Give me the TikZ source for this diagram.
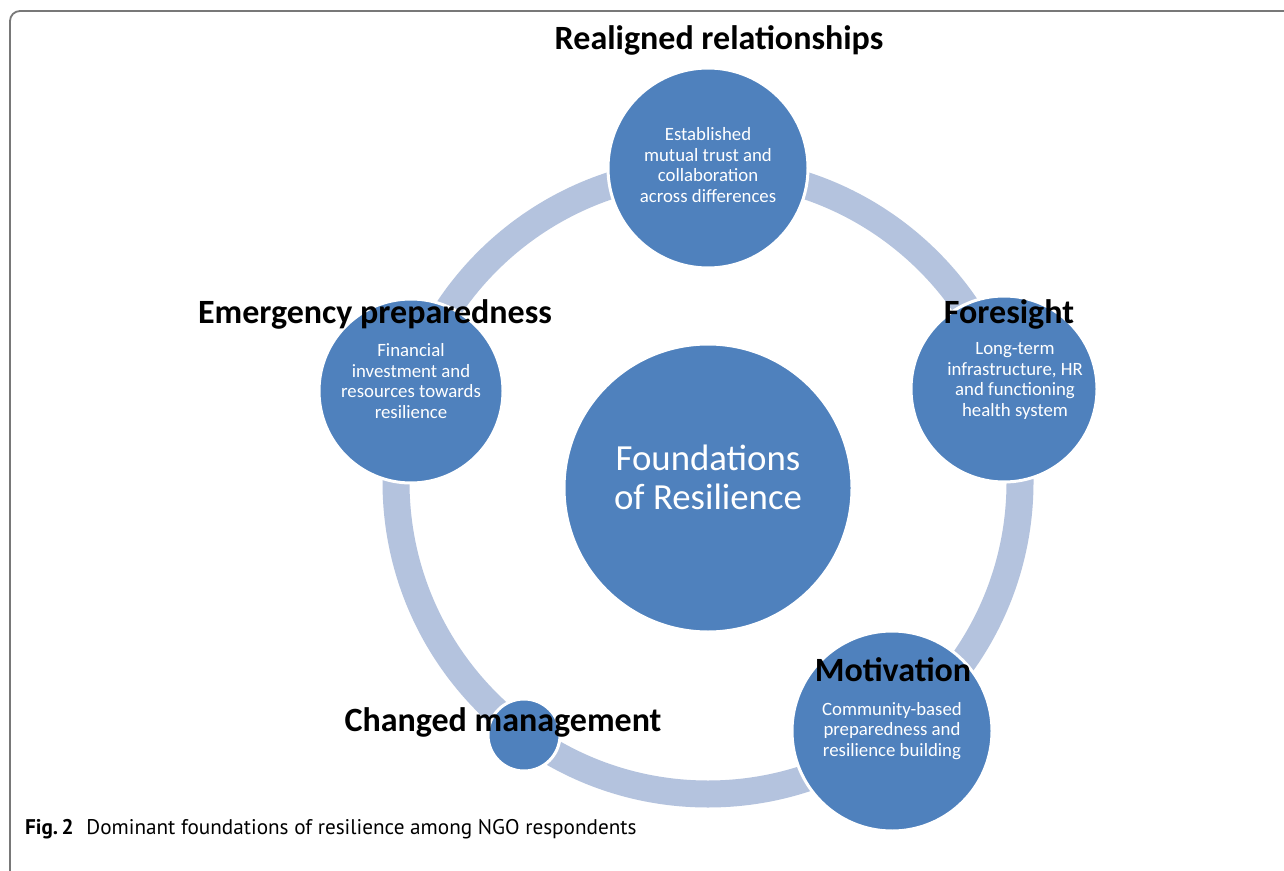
\documentclass[tikz,border=0pt]{standalone}
\usepackage{fontspec}
\setmainfont{Carlito}
\newfontfamily\capfont{PT Sans}
\definecolor{circblue}{RGB}{79,129,189}
\definecolor{ringblue}{RGB}{180,195,222}
\definecolor{framegray}{RGB}{120,120,120}

\begin{document}
\begin{tikzpicture}[x=0.5pt,y=-0.5pt,
    bubble/.style={circle,fill=circblue,draw=white,line width=1.5pt,inner sep=0pt},
    inner/.style={text=white,align=center,font=\fontsize{9.4}{10.4}\selectfont},
    title/.style={font=\fontsize{17}{20}\selectfont\bfseries}]
        \useasboundingbox (0,0) rectangle (1284,871);
        \fill[white] (0,0) rectangle (1284,871);
        \begin{scope}
          \clip (0,0) rectangle (1284,871);
          \draw[framegray,line width=0.9pt,rounded corners=5pt] (1300,11) -- (10,11) -- (10,881) -- (40,881);
        \end{scope}
        % ring through the five circles
        \coordinate (hub) at (708,482);
        \draw[ringblue,line width=13.5pt] (hub) circle (156pt);
        \node [bubble,minimum size=144pt] (found) at (708,488) {};
        \node [bubble,minimum size=100pt] (realign) at (708,168) {};
        \node [bubble,minimum size=93pt]  (fore) at (1004,389) {};
        \node [bubble,minimum size=100pt] (motiv) at (892,731) {};
        \node [bubble,minimum size=36pt]  (change) at (524,735) {};
        \node [bubble,minimum size=92pt]  (emerg) at (411,391) {};
        % texts
        \node [text=white,align=center,font=\fontsize{18.4}{19.5}\selectfont] (foundtxt) at (708,477) {Foundations\\of Resilience};
        \node [inner] (realigntxt) at (708,165) {Established\\mutual trust and\\collaboration\\across differences};
        \node [inner] (foretxt) at (1015,381) {Long-term\\infrastructure, HR\\and functioning\\health system};
        \node [inner] (motivtxt) at (892,731) {Community-based\\preparedness and\\resilience building};
        \node [inner] (emergtxt) at (411,381) {Financial\\investment and\\resources towards\\resilience};
        \node [title] (realignlbl) at (719,40) {Realigned relationships};
        \node [title] (forelbl) at (1009,314) {Foresight};
        \node [title] (motivlbl) at (893,670) {Motivation};
        \node [title] (changelbl) at (503,722) {Changed management};
        \node [title] (emerglbl) at (375,314) {Emergency preparedness};
        \node [anchor=west,font=\capfont\fontsize{10.6}{12}\selectfont] (caption) at (18,829) {\textbf{Fig.\,2}\hspace{0.6em}Dominant foundations of resilience among NGO respondents};
\end{tikzpicture}
\end{document}
